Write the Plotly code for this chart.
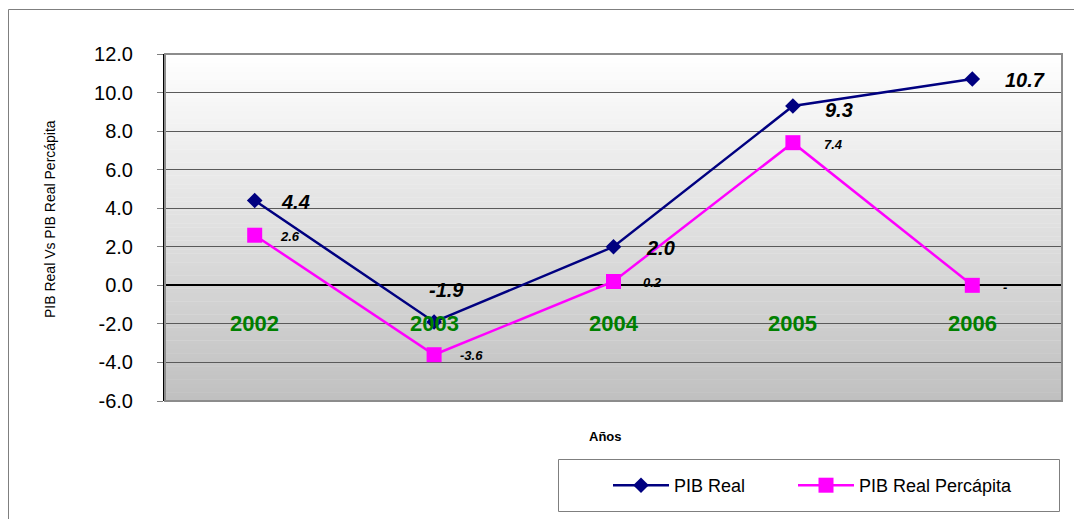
import plotly.graph_objects as go

# ---- data ----
years = ["2002", "2003", "2004", "2005", "2006"]
pib_real = [4.4, -1.9, 2.0, 9.3, 10.7]
pib_pc = [2.6, -3.6, 0.2, 7.4, 0.0]
pib_real_labels = ["4.4", "-1.9", "2.0", "9.3", "10.7"]
pib_pc_labels = ["2.6", "-3.6", "0.2", "7.4", "-"]
y_ticks = [-6, -4, -2, 0, 2, 4, 6, 8, 10, 12]
y_tick_labels = [f"{v:.1f}" for v in y_ticks]

W, H = 1074, 519
L, R, T, B = 165, 12, 54, 118
PW, PH = W - L - R, H - T - B


def px(xp):
    return (xp - L) / PW


def py(yp):
    return (H - B - yp) / PH


fig = go.Figure()

fig.add_trace(go.Scatter(
    x=years, y=pib_real, name="PIB Real", mode="lines+markers",
    line=dict(color="#000080", width=2.5),
    marker=dict(symbol="diamond", size=12, color="#000080"),
    legend="legend",
))
fig.add_trace(go.Scatter(
    x=years, y=pib_pc, name="PIB Real Percápita", mode="lines+markers",
    line=dict(color="#FF00FF", width=2.5),
    marker=dict(symbol="square", size=15, color="#FF00FF"),
    legend="legend2",
))

shapes = []
# outer chart border
shapes.append(dict(type="rect", xref="paper", yref="paper",
                   x0=px(8.5), x1=px(1090), y0=py(530), y1=py(9.5),
                   line=dict(color="#7f7f7f", width=1), layer="below"))
# legend box
shapes.append(dict(type="rect", xref="paper", yref="paper",
                   x0=px(558.5), x1=px(1059.5), y0=py(511.5), y1=py(459.5),
                   line=dict(color="#7f7f7f", width=1), fillcolor="white", layer="below"))
# gradient background of plot area
n = 80
for i in range(n):
    g = round(255 - (255 - 192) * (i + 0.5) / n)
    shapes.append(dict(type="rect", xref="paper", yref="paper",
                       x0=0, x1=1, y0=1 - (i + 1) / n - 0.001, y1=1 - i / n,
                       fillcolor=f"rgb({g},{g},{g})", line=dict(width=0), layer="below"))
# plot area border
shapes.append(dict(type="rect", xref="paper", yref="paper", x0=0, x1=1, y0=0, y1=1,
                   line=dict(color="#8c8c8c", width=2), layer="above"))

annotations = []
real_dx = [24, 12, 30, 30, 31]
real_dy = [-1, 32, -1, -4, -1]
for i, (yr, v, lab) in enumerate(zip(years, pib_real, pib_real_labels)):
    annotations.append(dict(x=i, y=v, xref="x", yref="y", text=f"<b><i>{lab}</i></b>",
                            showarrow=False,
                            xanchor="center" if i == 1 else "left",
                            xshift=real_dx[i], yshift=real_dy[i],
                            font=dict(family="Liberation Sans, Arial", size=20, color="black")))
pc_dx = [23, 24, 27, 29, 29]
pc_dy = [-1, -1, -1, -2, -2]
for i, (yr, v, lab) in enumerate(zip(years, pib_pc, pib_pc_labels)):
    annotations.append(dict(x=i, y=v, xref="x", yref="y", text=f"<b><i>{lab}</i></b>",
                            showarrow=False,
                            xanchor="left", xshift=pc_dx[i], yshift=pc_dy[i],
                            font=dict(family="Liberation Sans, Arial", size=13, color="black")))
# category labels sitting below the zero axis
for i, yr in enumerate(years):
    annotations.append(dict(x=i, y=0, xref="x", yref="y", text=f"<b>{yr}</b>", showarrow=False,
                            yshift=-38, xanchor="center", yanchor="middle",
                            font=dict(family="Liberation Sans, Arial", size=22, color="#008000")))
annotations.append(dict(xref="paper", yref="paper", x=px(50), y=py(219),
                        xanchor="center", yanchor="middle",
                        text="PIB Real Vs PIB Real Percápita", textangle=-90, showarrow=False,
                        font=dict(family="Liberation Sans, Arial", size=14, color="black")))
annotations.append(dict(xref="paper", yref="paper", x=px(605), y=py(436),
                        xanchor="center", yanchor="middle",
                        text="<b>Años</b>", showarrow=False,
                        font=dict(family="Liberation Sans, Arial", size=13, color="black")))

boundaries = [i + 0.5 for i in range(len(years))]

legend_style = dict(orientation="h", xanchor="left", yanchor="top",
                    bgcolor="rgba(0,0,0,0)", borderwidth=0,
                    font=dict(family="Liberation Sans, Arial", size=18, color="black"),
                    itemwidth=56)

fig.update_layout(
    width=W, height=H,
    margin=dict(l=L, r=R, t=T, b=B, autoexpand=False),
    paper_bgcolor="white", plot_bgcolor="rgba(0,0,0,0)",
    font=dict(family="Liberation Sans, Arial", color="black"),
    shapes=shapes, annotations=annotations,
    showlegend=True,
    legend=dict(x=px(608), y=py(467), **legend_style),
    legend2=dict(x=px(793), y=py(467), **legend_style),
    xaxis=dict(type="category", range=[-0.5, 4.5], showgrid=False, zeroline=False,
               showticklabels=False, ticks="", showline=False, fixedrange=True),
    xaxis2=dict(overlaying="x", anchor="free", position=6 / 18, range=[-0.5, 4.5],
                tickvals=boundaries, showticklabels=False, ticks="outside", ticklen=5,
                tickcolor="black", showgrid=False, zeroline=False, showline=False,
                fixedrange=True),
    yaxis=dict(range=[-6, 12], tickvals=y_ticks, ticktext=y_tick_labels,
               ticks="outside", ticklen=6, tickcolor="#808080",
               showgrid=True, gridcolor="#5a5a5a", gridwidth=1,
               zeroline=True, zerolinecolor="black", zerolinewidth=1.5,
               showline=True, linecolor="black", linewidth=2,
               ticklabelstandoff=20,
               tickfont=dict(family="Liberation Sans, Arial", size=20, color="black"),
               fixedrange=True),
)

fig.write_html("out.html", config={"displayModeBar": False},
               post_script="document.body.style.margin='0';")
